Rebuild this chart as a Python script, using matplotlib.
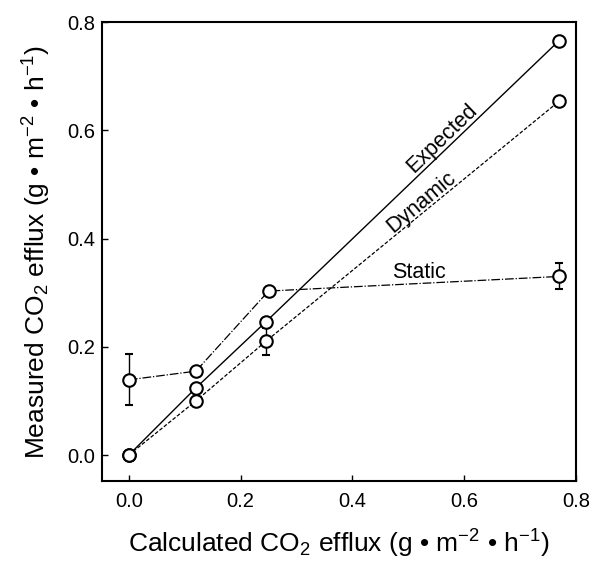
import matplotlib
matplotlib.use("Agg")
import matplotlib.pyplot as plt

plt.rcParams['font.family'] = ['Liberation Sans', 'DejaVu Sans']
plt.rcParams['mathtext.fontset'] = 'custom'
plt.rcParams['mathtext.rm'] = 'Liberation Sans'
plt.rcParams['mathtext.it'] = 'Liberation Sans'
plt.rcParams['mathtext.default'] = 'regular'

# Data
exp_x = [0.0, 0.12, 0.245, 0.77]
exp_y = [0.0, 0.124, 0.246, 0.766]

dyn_x = [0.0, 0.12, 0.245, 0.77]
dyn_y = [0.0, 0.100, 0.210, 0.654]
dyn_err = [0.0, 0.0, 0.025, 0.0]

sta_x = [0.0, 0.12, 0.25, 0.77]
sta_y = [0.139, 0.155, 0.303, 0.330]
sta_err = [0.047, 0.0, 0.0, 0.024]

xticks = [0.0, 0.2, 0.4, 0.6, 0.8]
yticks = [0.0, 0.2, 0.4, 0.6, 0.8]

fig = plt.figure(figsize=(6.0, 5.61), dpi=100)
ax = fig.add_axes([0.17, 0.1426, 0.79, 0.818])

mk = dict(marker='o', markersize=9, markerfacecolor='white', markeredgecolor='black',
          markeredgewidth=1.5, color='black')

ax.errorbar(sta_x, sta_y, yerr=sta_err, linestyle=(0, (7, 1.5, 1, 1.5)), linewidth=0.9,
            capsize=3, elinewidth=1.0, capthick=1.0, zorder=2, **mk)
ax.errorbar(dyn_x, dyn_y, yerr=dyn_err, linestyle=(0, (3, 1.5)), linewidth=0.9,
            capsize=3, elinewidth=1.0, capthick=1.0, zorder=2, **mk)
ax.plot(exp_x, exp_y, linestyle='-', linewidth=1.0, zorder=3, **mk)

ax.text(0.56, 0.586, 'Expected', rotation=44, ha='center', va='center', fontsize=15.5)
ax.text(0.523, 0.467, 'Dynamic', rotation=40, ha='center', va='center', fontsize=15.5)
ax.text(0.519, 0.338, 'Static', rotation=0, ha='center', va='center', fontsize=15.5)

ax.set_xlim(-0.048, 0.8)
ax.set_ylim(-0.048, 0.8)
ax.set_xticks(xticks)
ax.set_yticks(yticks)
ax.set_xticklabels([f'{v:.1f}' for v in xticks])
ax.set_yticklabels([f'{v:.1f}' for v in yticks])
ax.tick_params(direction='in', length=4, width=1, labelsize=14.5)
ax.tick_params(axis='x', pad=8)
ax.tick_params(axis='y', pad=5)
for s in ax.spines.values():
    s.set_linewidth(1.5)

unit = 'efflux (g \u2022 m$^{-2}$ \u2022 h$^{-1}$)'
ax.set_xlabel('Calculated CO$_2$ ' + unit, fontsize=19, labelpad=12)
ax.set_ylabel('Measured CO$_2$ ' + unit, fontsize=19, labelpad=10)

fig.savefig('out.png', dpi=100)
